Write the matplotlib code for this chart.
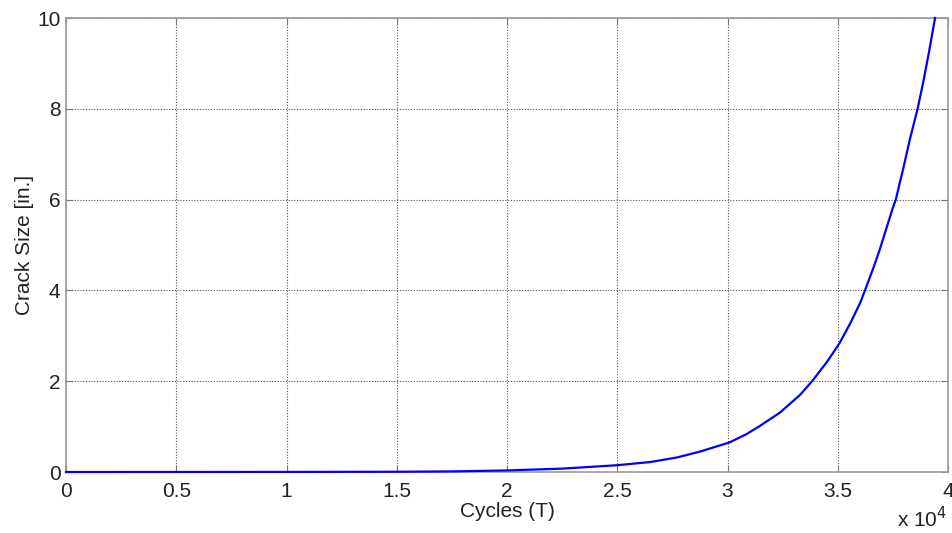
import matplotlib
matplotlib.use("Agg")
import matplotlib.pyplot as plt

# crack growth curve
cycles = [0, 5000, 10000, 15000, 17500, 20000, 22500, 25000, 26500, 27700,
          28750, 30080, 30840, 31450, 32380, 33290, 33850, 34500, 35070,
          35560, 36010, 36240, 36610, 36890, 37490, 37630, 37970, 38280,
          38620, 38880, 39140, 39410]
crack_size = [0.0, 0.001, 0.002, 0.006, 0.014, 0.035, 0.075, 0.15, 0.22, 0.32,
              0.45, 0.65, 0.83, 1.01, 1.31, 1.70, 2.01, 2.42, 2.83,
              3.27, 3.72, 4.01, 4.49, 4.88, 5.81, 6.0, 6.69, 7.35,
              8.0, 8.6, 9.26, 10.0]

x_ticks = [0, 5000, 10000, 15000, 20000, 25000, 30000, 35000, 40000]
x_tick_labels = ["0", "0.5", "1", "1.5", "2", "2.5", "3", "3.5", "4"]
y_ticks = [0, 2, 4, 6, 8, 10]

plt.rcParams["font.family"] = ["Liberation Sans", "DejaVu Sans"]

fig = plt.figure(figsize=(9.53, 5.33), dpi=100)
ax = fig.add_axes([0.0693, 0.1144, 0.9255, 0.8518])

ax.plot(cycles, crack_size, color="#0000ff", linewidth=1.6,
        solid_joinstyle="round", clip_on=False, zorder=3)

ax.set_xlim(0, 40000)
ax.set_ylim(0, 10)
ax.set_xticks(x_ticks)
ax.set_xticklabels(x_tick_labels)
ax.set_yticks(y_ticks)

ax.grid(True, color="#555555", linestyle=(0, (1, 1.5)), linewidth=0.8)
ax.set_axisbelow(True)

for side in ["left", "bottom", "top", "right"]:
    ax.spines[side].set_color("#9a9a9a")
    ax.spines[side].set_linewidth(1.2)

ax.tick_params(direction="in", length=5, color="#777777", labelsize=15,
               labelcolor="#222222", top=True, right=True)
ax.tick_params(axis="x", pad=7)
ax.tick_params(axis="y", pad=4)

ax.set_xlabel("Cycles (T)", fontsize=15, color="#222222", labelpad=1)
ax.set_ylabel("Crack Size [in.]", fontsize=15, color="#222222", labelpad=2.5)

fig.text(0.994, 0.010, r"x 10$^{4}$", fontsize=15, color="#222222", ha="right")

fig.savefig("out.png", dpi=100)
plt.close(fig)
